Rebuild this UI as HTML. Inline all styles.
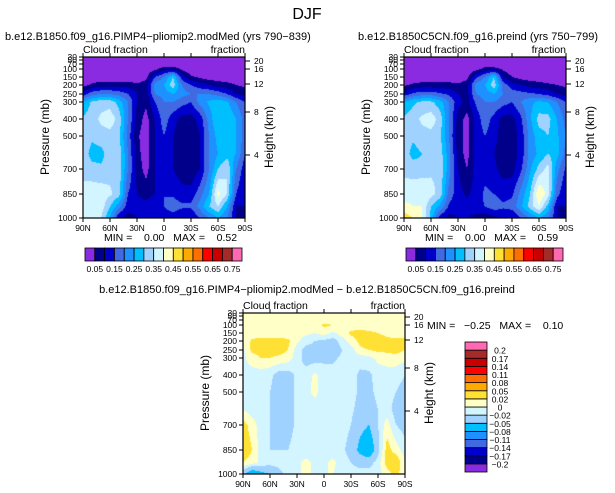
<!DOCTYPE html>
<html><head><meta charset="utf-8">
<style>
html,body{margin:0;padding:0;background:#fff;}
#wrap{position:relative;width:615px;height:493px;overflow:hidden;font-family:"Liberation Sans",sans-serif;}
canvas,svg{position:absolute;left:0;top:0;}
svg text{font-family:"Liberation Sans",sans-serif;fill:#000;}
</style></head>
<body>
<div id="wrap">
<canvas id="cv" width="615" height="493"></canvas>
<svg id="sv" width="615" height="493"></svg>
</div>
<script>
const lats=["90N","80N","70N","60N","50N","40N","30N","20N","10N","0","10S","20S","30S","40S","50S","60S","70S","80S","90S"];
const latTicks=["90N","60N","30N","0","30S","60S","90S"];
const pLevels=[30,70,100,150,200,250,300,400,500,600,700,850,925,1000];
const pTicks=[30,50,70,100,150,200,250,300,400,500,700,850,1000];
const pTickPos=[0,3,7,12,20,28,37,45,62,79,112,137,161];
const hTicks=[20,16,12,8,4];
const hTickPos=[4,12,27,55,98];
const cfLevels=[0.05,0.1,0.15,0.2,0.25,0.3,0.35,0.4,0.45,0.5,0.55,0.6,0.65,0.7,0.75];
const cfLabels=["0.05","0.15","0.25","0.35","0.45","0.55","0.65","0.75"];
const dLevels=[-0.2,-0.17,-0.14,-0.11,-0.08,-0.05,-0.02,0,0.02,0.05,0.08,0.11,0.14,0.17,0.2];
const dLabels=["-0.2","-0.17","-0.14","-0.11","-0.08","-0.05","-0.02","0","0.02","0.05","0.08","0.11","0.14","0.17","0.2"];
const palette=["#8a2be2","#00008b","#0000cd","#4169e1","#1e90ff","#00bfff","#a0d2ff","#d2f5ff","#ffffc8","#ffe135","#ffaa00","#ff6e00","#ff0000","#c80000","#a52a2a","#ff69b4"];

const cf1=[
[.01,.01,.01,.01,.01,.01,.01,.01,.01,.01,.01,.01,.01,.01,.01,.01,.01,.01,.01],
[.01,.01,.01,.01,.01,.01,.01,.01,.01,.01,.01,.01,.01,.01,.01,.01,.01,.01,.01],
[.01,.01,.01,.01,.01,.01,.01,.01,.03,.08,.08,.04,.01,.01,.01,.01,.01,.01,.01],
[.01,.01,.01,.01,.01,.01,.01,.03,.15,.2,.3,.12,.06,.04,.02,.02,.01,.01,.01],
[.03,.06,.08,.08,.08,.08,.06,.08,.22,.25,.33,.2,.15,.12,.1,.08,.07,.05,.04],
[.12,.18,.2,.2,.18,.15,.1,.07,.2,.22,.25,.22,.2,.2,.2,.18,.15,.1,.08],
[.25,.31,.33,.33,.28,.2,.1,.06,.15,.2,.2,.17,.15,.22,.26,.28,.26,.2,.15],
[.31,.33,.36,.38,.33,.2,.08,.03,.1,.18,.12,.08,.08,.12,.22,.3,.3,.25,.18],
[.33,.31,.33,.33,.31,.18,.06,.02,.1,.15,.1,.07,.06,.1,.2,.27,.28,.25,.18],
[.33,.28,.28,.33,.33,.2,.07,.02,.1,.13,.1,.06,.06,.1,.2,.25,.28,.25,.15],
[.33,.32,.31,.33,.33,.2,.08,.03,.1,.12,.1,.07,.06,.1,.2,.3,.35,.2,.12],
[.37,.38,.38,.36,.32,.15,.1,.08,.1,.15,.14,.12,.12,.18,.25,.42,.35,.15,.1],
[.38,.4,.38,.3,.22,.12,.12,.12,.14,.15,.18,.16,.16,.22,.3,.35,.25,.1,.1],
[.38,.4,.35,.25,.1,.08,.1,.1,.1,.12,.12,.1,.1,.15,.2,.25,.2,.1,.05]];
const cf2=[
[.01,.01,.01,.01,.01,.01,.01,.01,.01,.01,.01,.01,.01,.01,.01,.01,.01,.01,.01],
[.01,.01,.01,.01,.01,.01,.01,.01,.01,.01,.01,.01,.01,.01,.01,.01,.01,.01,.01],
[.01,.01,.01,.01,.01,.01,.01,.01,.03,.07,.07,.04,.01,.01,.01,.01,.01,.01,.01],
[.01,.01,.01,.01,.01,.01,.01,.03,.14,.2,.3,.1,.05,.03,.02,.02,.01,.01,.01],
[.04,.06,.07,.07,.07,.07,.06,.08,.22,.25,.33,.18,.12,.1,.08,.07,.06,.05,.04],
[.12,.16,.18,.18,.16,.14,.1,.08,.2,.22,.25,.2,.18,.17,.16,.15,.13,.1,.08],
[.25,.29,.31,.31,.27,.2,.12,.08,.16,.2,.2,.17,.15,.2,.24,.26,.25,.2,.15],
[.31,.33,.36,.38,.33,.2,.08,.03,.12,.18,.13,.08,.08,.14,.24,.32,.32,.25,.18],
[.33,.31,.33,.33,.31,.2,.07,.03,.12,.15,.12,.07,.07,.12,.22,.28,.3,.26,.2],
[.33,.28,.3,.33,.33,.22,.08,.03,.12,.14,.1,.07,.07,.12,.22,.26,.3,.27,.18],
[.34,.33,.32,.34,.34,.22,.1,.05,.12,.13,.11,.08,.08,.14,.24,.32,.37,.22,.14],
[.37,.38,.4,.37,.33,.18,.12,.09,.12,.16,.15,.13,.14,.22,.3,.45,.38,.17,.1],
[.42,.4,.4,.3,.24,.14,.12,.12,.14,.15,.18,.16,.17,.24,.32,.4,.28,.1,.1],
[.48,.45,.4,.28,.12,.08,.1,.1,.08,.06,.08,.1,.1,.15,.2,.25,.2,.1,.05]];
const dif=[
[.005,.005,.005,.005,.005,.005,.005,.005,.005,.005,.005,.005,.005,.005,.005,.005,.005,.005,.005],
[.005,.005,.005,.005,.005,.005,.005,.005,.005,.005,.005,.005,.005,.005,.005,.005,.005,.005,.005],
[.005,.005,.005,.005,.005,.005,.005,.005,.005,.025,.02,.005,.005,.005,.005,.005,.005,.005,.005],
[.005,.005,.005,.005,.005,.005,.005,.005,0,.01,-.005,.01,.025,.03,.025,.02,.015,.01,.01],
[0,.025,.03,.03,.03,.025,.005,-.01,-.02,-.025,-.03,-.01,.01,.025,.035,.03,.025,.025,.025],
[-.005,.025,.03,.03,.03,.02,-.01,-.03,-.03,-.025,-.04,-.02,-.01,.015,.02,.025,.025,.03,.02],
[-.005,.01,.02,.02,.015,.01,-.01,-.03,-.03,-.025,-.025,-.015,-.01,-.01,-.005,.005,.01,.01,.005],
[-.005,-.01,-.01,-.015,-.03,-.03,-.015,-.01,.005,-.01,-.01,-.01,-.01,-.025,-.025,-.01,-.01,-.01,-.02],
[-.005,-.01,-.01,-.02,-.03,-.03,-.015,-.005,.005,-.01,-.01,-.01,-.01,-.025,-.025,-.015,-.01,-.02,-.03],
[0,-.01,-.01,-.02,-.03,-.03,-.015,-.01,-.01,-.01,-.01,-.01,-.015,-.03,-.03,-.02,-.01,-.03,-.04],
[.03,.01,-.01,-.02,-.03,-.03,-.015,-.01,-.01,-.01,-.01,-.01,-.02,-.04,-.05,-.02,.01,-.02,-.03],
[.04,.02,-.01,-.02,-.02,-.02,-.01,-.01,-.01,-.01,-.01,-.015,-.03,-.06,-.08,-.03,.03,.01,-.01],
[.02,.01,-.005,-.01,-.01,-.005,-.005,.005,-.005,-.005,.005,-.01,-.02,-.03,-.03,-.01,.03,.04,0],
[-.04,-.08,-.06,-.05,-.03,-.01,0,0,0,0,0,-.01,-.01,-.01,-.01,-.01,.01,.03,0]];

const PW=162,PH=161;
function yToP(y){
  for(let i=0;i<pTickPos.length-1;i++){
    if(y<=pTickPos[i+1]){const t=(y-pTickPos[i])/(pTickPos[i+1]-pTickPos[i]);
      return Math.exp(Math.log(pTicks[i])+t*(Math.log(pTicks[i+1])-Math.log(pTicks[i])));}
  }return 1000;
}
function pToRow(p){
  for(let i=0;i<pLevels.length-1;i++){
    if(p<=pLevels[i+1]){return i+(Math.log(p)-Math.log(pLevels[i]))/(Math.log(pLevels[i+1])-Math.log(pLevels[i]));}
  }return pLevels.length-1;
}
function colorIdx(v,levels){let k=0;for(const l of levels){if(v>=l)k++;}return k;}
function hex(c){return [parseInt(c.substr(1,2),16),parseInt(c.substr(3,2),16),parseInt(c.substr(5,2),16)];}
const pal=palette.map(hex);
const ctx=document.getElementById('cv').getContext('2d');
function drawField(x0,y0,grid,levels){
  const img=ctx.createImageData(PW,PH);
  for(let y=0;y<PH;y++){
    const r=Math.min(grid.length-1.0001,Math.max(0,pToRow(yToP(y+0.5))));
    const r0=Math.floor(r),fr=r-r0;
    for(let x=0;x<PW;x++){
      const c=Math.min(lats.length-1.0001,(x+0.5)/PW*(lats.length-1));
      const c0=Math.floor(c),fc=c-c0;
      const v=(grid[r0][c0]*(1-fc)+grid[r0][c0+1]*fc)*(1-fr)+(grid[r0+1][c0]*(1-fc)+grid[r0+1][c0+1]*fc)*fr;
      const col=pal[colorIdx(v,levels)];
      const o=(y*PW+x)*4;img.data[o]=col[0];img.data[o+1]=col[1];img.data[o+2]=col[2];img.data[o+3]=255;
    }
  }
  ctx.putImageData(img,x0,y0);
}
const NS="http://www.w3.org/2000/svg";
const sv=document.getElementById('sv');
function el(tag,attrs,parent){const e=document.createElementNS(NS,tag);for(const k in attrs)e.setAttribute(k,attrs[k]);(parent||sv).appendChild(e);return e;}
function txt(s,x,y,size,anchor,parent){const t=el('text',{x:x,y:y,'font-size':size,'text-anchor':anchor||'start'},parent);t.textContent=s;return t;}

function panel(name,x0,y0,grid,levels){
  drawField(x0,y0,grid,levels);
  const g=el('g',{});
  
  
  const fr=el('rect',{x:x0,y:y0,width:PW,height:PH,fill:'none',stroke:'#000','stroke-width':1.2},g);
  
  
  latTicks.forEach((l,i)=>{
    const x=x0+i*PW/(latTicks.length-1);
    el('line',{x1:x,y1:y0+PH,x2:x,y2:y0+PH+4,stroke:'#000'},g);
    el('line',{x1:x,y1:y0,x2:x,y2:y0-4,stroke:'#000'},g);
    const t=txt(l,x,y0+PH+13,8.5,'middle',g);
    
    
  });
  pTicks.forEach((p,i)=>{
    const y=y0+pTickPos[i];
    el('line',{x1:x0,y1:y,x2:x0-4,y2:y,stroke:'#000'},g);
    const t=txt(String(p),x0-6,y+3,8.5,'end',g);
    
    
  });
  hTicks.forEach((h,i)=>{
    const y=y0+hTickPos[i];
    el('line',{x1:x0+PW,y1:y,x2:x0+PW+5,y2:y,stroke:'#000'},g);
    const t=txt(String(h),x0+PW+9,y+3,8.5,'start',g);
    
    
  });
  const yl=txt('Pressure (mb)',0,0,12,'middle',g);
  yl.setAttribute('transform','translate('+(x0-34)+','+(y0+80)+') rotate(-90)');
  
  
  const hl=txt('Height (km)',0,0,12,'middle',g);
  hl.setAttribute('transform','translate('+(x0+PW+28)+','+(y0+80)+') rotate(-90)');
  
  
  const cl=txt('Cloud fraction',x0,y0-4,10.5,'start',g);
  
  
  const cr=txt('fraction',x0+PW,y0-4,10.5,'end',g);
  
  
}
function hbar(name,x0,y0,w,h){
  const g=el('g',{});
  
  
  const bw=w/palette.length;
  palette.forEach((c,i)=>{
    const r=el('rect',{x:x0+i*bw,y:y0,width:bw,height:h,fill:c,stroke:'#000','stroke-width':0.8},g);
    
    
  });
  cfLabels.forEach((l,i)=>{
    const t=txt(l,x0+(1+2*i)*bw,y0+h+11,8.5,'middle',g);
    
    
  });
}
function vbar(name,x0,y0,w,h){
  const g=el('g',{});
  
  
  const bh=h/palette.length;
  palette.forEach((c,i)=>{
    const r=el('rect',{x:x0,y:y0+(palette.length-1-i)*bh,width:w,height:bh,fill:c,stroke:'#000','stroke-width':0.8},g);
    
    
  });
  dLabels.forEach((l,i)=>{
    const t=txt(l.replace('-','\u2212'),x0+w+13,y0+(palette.length-1-i)*bh+3.5,8.5,'middle',g);
    
    
  });
}
panel('panel-pimp4',83,57,cf1,cfLevels);
panel('panel-preind',404,57,cf2,cfLevels);
panel('panel-difference',243,313,dif,dLevels);
hbar('colorbar-left',85,248,157,13);
hbar('colorbar-right',406,248,157,13);
vbar('colorbar-difference',465,342,22,130);

let t=txt('DJF',307,19,16,'middle');t.setAttribute('fill','#444');

t=txt('b.e12.B1850.f09_g16.PIMP4\u2212pliomip2.modMed (yrs 790\u2212839)',5,40,11,'start');

t=txt('b.e12.B1850C5CN.f09_g16.preind (yrs 750\u2212799)',358,40,11,'start');

t=txt('b.e12.B1850.f09_g16.PIMP4\u2212pliomip2.modMed \u2212 b.e12.B1850C5CN.f09_g16.preind',307,293,11,'middle');

t=txt('MIN =    0.00   MAX =    0.52',104,241,10.5,'start');t.style.whiteSpace='pre';

t=txt('MIN =    0.00   MAX =    0.59',425,241,10.5,'start');t.style.whiteSpace='pre';

t=txt('MIN =   \u22120.25   MAX =    0.10',427,329,10.5,'start');t.style.whiteSpace='pre';

</script>
</body></html>
